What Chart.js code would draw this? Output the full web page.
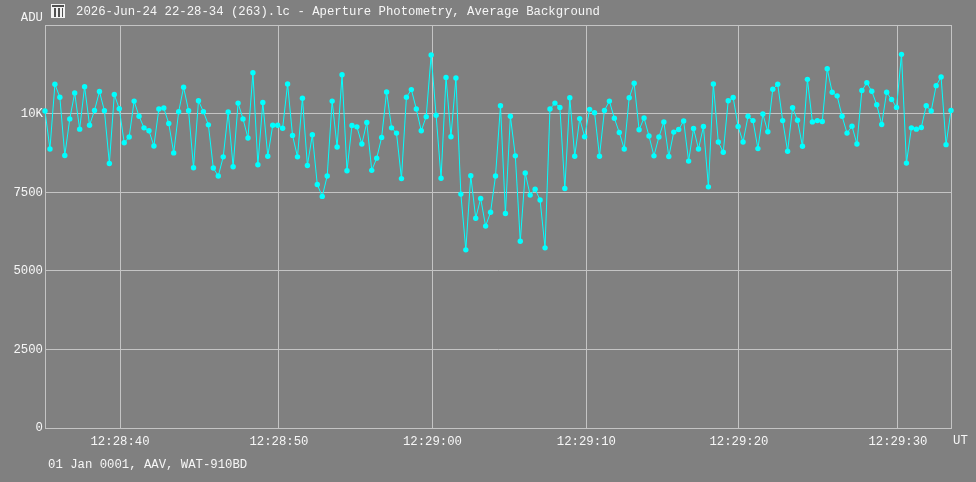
<!DOCTYPE html>
<html>
<head>
<meta charset="utf-8">
<title>Aperture Photometry, Average Background</title>
<script src="https://cdn.jsdelivr.net/npm/chart.js@4.4.1/dist/chart.umd.min.js"></script>
<style>
  html, body { margin: 0; padding: 0; background: #808080; }
  #wrap { width: 976px; height: 482px; position: relative; }
</style>
</head>
<body>
<div id="wrap"><canvas id="lcChart" width="976" height="482"></canvas></div>
<script>
// ===========================
// DATA (one value per frame)
// ===========================
const backgroundAdu = [
    10095, 8887, 10945, 10535, 8677, 9843, 10672, 9517, 10871, 9643,
    10115, 10714, 10105, 8425, 10620, 10168, 9086, 9265, 10410, 9927,
    9559, 9465, 8982, 10158, 10189, 9696, 8761, 10074, 10851, 10105,
    8289, 10420, 10074, 9654, 8278, 8026, 8635, 10063, 8320, 10347,
    9843, 9234, 11313, 8383, 10368, 8656, 9643, 9643, 9548, 10956,
    9318, 8635, 10504, 8362, 9339, 7753, 7375, 8026, 10410, 8950,
    11250, 8194, 9633, 9590, 9045, 9727, 8205, 8593, 9255, 10704,
    9559, 9391, 7942, 10536, 10777, 10158, 9465, 9916, 11880, 9958,
    7953, 11166, 9276, 11145, 7449, 5674, 8037, 6682, 7312, 6430,
    6871, 8026, 10263, 6829, 9927, 8667, 5947, 8121, 7417, 7606,
    7260, 5737, 10158, 10347, 10210, 7627, 10515, 8656, 9853, 9276,
    10147, 10042, 8656, 10115, 10410, 9863, 9412, 8887, 10515, 10977,
    9496, 9874, 9297, 8667, 9265, 9748, 8646, 9423, 9507, 9780,
    8499, 9538, 8887, 9601, 7680, 10956, 9108, 8782, 10420, 10525,
    9601, 9108, 9927, 9790, 8898, 10000, 9433, 10788, 10945, 9790,
    8814, 10200, 9800, 8971, 11103, 9748, 9790, 9759, 11439, 10693,
    10578, 9927, 9391, 9612, 9045, 10746, 10998, 10725, 10294, 9664,
    10693, 10462, 10210, 11900, 8436, 9559, 9517, 9570, 10263, 10095,
    10903, 11176, 9024, 10115
];

// time labels sit on the frame where that UT second starts
const timeTickFrames = [15.15, 47.26, 78.25, 109.35, 140.17, 172.29];
const timeTickLabels = ["12:28:40", "12:28:50", "12:29:00", "12:29:10", "12:29:20", "12:29:30"];

const aduTickValues = [0, 2500, 5000, 7500, 10000];
const aduTickLabels = ["0", "2500", "5000", "7500", "10K"];
const aduMax = 12834;

const titleText = "2026-Jun-24 22-28-34 (263).lc - Aperture Photometry, Average Background";
const footerText = "01 Jan 0001, AAV, WAT-910BD";

// ===========================
// LOOK
// ===========================
const FONT = '"Liberation Mono", "Courier New", monospace';
const TEXT_COLOR = "#f6f6f6";
const GRID_COLOR = "#c4c4c4";
const LINE_COLOR = "#00ffff";

// frame box, title, captions
const decorPlugin = {
    id: "decor",
    beforeDatasetsDraw(chart) {
        const a = chart.chartArea;
        const ctx = chart.ctx;
        ctx.save();
        ctx.strokeStyle = GRID_COLOR;
        ctx.lineWidth = 1;
        ctx.strokeRect(a.left + 0.5, a.top + 0.5, a.right - a.left, a.bottom - a.top);
        ctx.restore();
    },
    afterDraw(chart) {
        const ctx = chart.ctx;
        ctx.save();

        // little window icon before the title
        ctx.fillStyle = "#f2f2f2";
        ctx.fillRect(51, 4, 14, 14);
        ctx.fillStyle = "#505050";
        ctx.fillRect(52, 5, 12, 2);
        ctx.fillRect(54, 8, 2, 9);
        ctx.fillRect(58, 8, 2, 9);
        ctx.fillRect(62, 8, 1, 9);

        ctx.font = "12.3px " + FONT;
        ctx.fillStyle = TEXT_COLOR;
        ctx.textBaseline = "middle";

        ctx.textAlign = "left";
        ctx.fillText(titleText, 76, 12);
        ctx.fillText("UT", 953, 441);
        ctx.fillText(footerText, 48, 465);

        ctx.textAlign = "right";
        ctx.fillText("ADU", 43, 18);
        ctx.restore();
    }
};

const ctx = document.getElementById("lcChart").getContext("2d");

new Chart(ctx, {
    type: "line",
    data: {
        datasets: [{
            label: "Average Background",
            data: backgroundAdu.map((v, i) => ({ x: i, y: v })),
            borderColor: LINE_COLOR,
            backgroundColor: LINE_COLOR,
            borderWidth: 1,
            pointRadius: 2.7,
            pointBorderWidth: 0,
            pointBackgroundColor: LINE_COLOR,
            tension: 0,
            clip: 6
        }]
    },
    options: {
        responsive: false,
        animation: false,
        events: [],
        layout: { padding: { top: 25, right: 25, bottom: 0, left: 0 } },
        plugins: {
            legend: { display: false },
            tooltip: { enabled: false }
        },
        scales: {
            x: {
                type: "linear",
                min: 0,
                max: backgroundAdu.length - 1,
                afterFit: s => { s.height = 54; },
                afterBuildTicks: s => {
                    s.ticks = timeTickFrames.map(v => ({ value: v }));
                },
                ticks: {
                    autoSkip: false,
                    maxRotation: 0,
                    padding: 6,
                    color: TEXT_COLOR,
                    font: { family: FONT, size: 12.3 },
                    callback: (v, i) => timeTickLabels[i]
                },
                grid: { color: GRID_COLOR, lineWidth: 1, drawTicks: false },
                border: { color: GRID_COLOR }
            },
            y: {
                type: "linear",
                min: 0,
                max: aduMax,
                afterFit: s => { s.width = 45; },
                afterBuildTicks: s => {
                    s.ticks = aduTickValues.map(v => ({ value: v }));
                },
                ticks: {
                    padding: 2,
                    color: TEXT_COLOR,
                    font: { family: FONT, size: 12.3 },
                    callback: (v, i) => aduTickLabels[i]
                },
                grid: { color: GRID_COLOR, lineWidth: 1, drawTicks: false },
                border: { color: GRID_COLOR }
            }
        }
    },
    plugins: [decorPlugin]
});
</script>
</body>
</html>
